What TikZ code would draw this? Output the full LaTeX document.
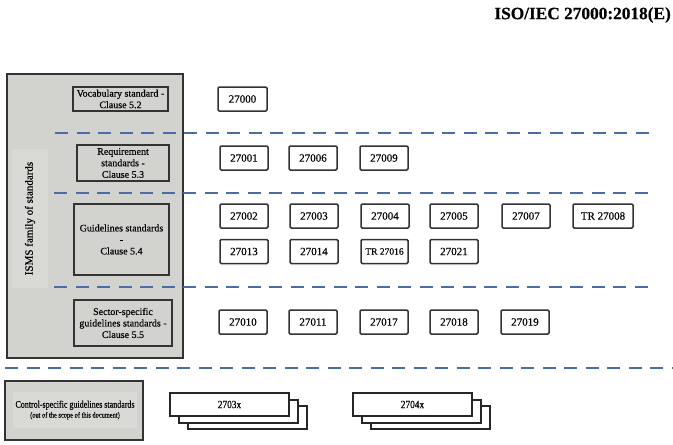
\documentclass[tikz,border=0pt]{standalone}
\usepackage{fontspec}
\setmainfont{Liberation Serif}[FakeBold=0.35]
\begin{document}
\begin{tikzpicture}[x=1pt,y=-1pt,
  graybox/.style={draw=black!80, line width=1.5pt, fill=boxgray, inner sep=0pt, align=center, font=\fontsize{10}{11.5}\selectfont},
  numbox/.style={draw=black!80, line width=1.5pt, fill=white, rounded corners=1.2pt, inner sep=0pt, minimum width=48pt, minimum height=24pt, font=\fontsize{11}{12}\selectfont},
  stackbox/.style={draw=black!85, line width=1.3pt, fill=white, inner sep=0pt, minimum width=119pt, minimum height=23pt, font=\fontsize{11}{12}\selectfont},
  sepline/.style={draw=sepblue, line width=2.2pt, dash pattern=on 13pt off 8.5pt}
]
\definecolor{boxgray}{HTML}{D2D2CE}
\definecolor{innergray}{HTML}{D9D9D5}
\definecolor{sepblue}{HTML}{4A6DA8}
\useasboundingbox (0,0) rectangle (673,445);

% title
\node[anchor=east, inner sep=0pt, font=\fontsize{17.3}{19}\selectfont\bfseries] (title) at (671,15) {ISO/IEC 27000:2018(E)};

% left big box
\node[graybox, minimum width=176pt, minimum height=284pt] (isms) at (95,216) {};
\node[draw=none, fill=innergray, inner sep=0pt, rotate=90, minimum width=139pt, minimum height=36pt, font=\fontsize{11}{12}\selectfont] (ismslabel) at (30,218.5) {ISMS family of standards};

\node[graybox, minimum width=95pt, minimum height=24pt] (vocab) at (120.5,99) {Vocabulary standard -\\Clause 5.2};
\node[graybox, minimum width=92pt, minimum height=36pt] (req) at (123,163) {Requirement\\standards -\\Clause 5.3};
\node[graybox, minimum width=95pt, minimum height=71pt] (guide) at (121.5,239.5) {Guidelines standards\\-\\Clause 5.4};
\node[graybox, minimum width=98pt, minimum height=46pt] (sector) at (123,323) {Sector-specific\\guidelines standards -\\Clause 5.5};

% dashed separators
\draw[sepline] (55,133) -- (652,133);
\draw[sepline] (54,193) -- (650,193);
\draw[sepline] (54,287) -- (650,287);
\draw[sepline] (5,368) -- (673,368);

% number boxes
\node[numbox, minimum width=49pt] (s27000) at (242.5,99) {27000};

\node[numbox] (s27001) at (244,158) {27001};
\node[numbox] (s27006) at (313,158) {27006};
\node[numbox] (s27009) at (384,158) {27009};

\node[numbox] (s27002) at (244,216) {27002};
\node[numbox] (s27003) at (314,216) {27003};
\node[numbox] (s27004) at (385,216) {27004};
\node[numbox] (s27005) at (454,216) {27005};
\node[numbox] (s27007) at (526,216) {27007};
\node[numbox, minimum width=60pt] (s27008) at (603,216) {TR 27008};

\node[numbox] (s27013) at (244,251.5) {27013};
\node[numbox] (s27014) at (314,251.5) {27014};
\node[numbox, minimum width=47pt, font=\fontsize{9.5}{11}\selectfont] (s27016) at (384.5,251.5) {TR 27016};
\node[numbox] (s27021) at (454,251.5) {27021};

\node[numbox] (s27010) at (243,322) {27010};
\node[numbox] (s27011) at (313,322) {27011};
\node[numbox] (s27017) at (384,322) {27017};
\node[numbox] (s27018) at (454,322) {27018};
\node[numbox] (s27019) at (525,322) {27019};

% control-specific
\node[graybox, minimum width=138pt, minimum height=59pt] (control) at (74,410.5) {};
\node[fill=innergray, inner sep=0pt, minimum width=124pt, minimum height=36pt, align=center] (controltext) at (75,410)
  {\scalebox{0.8}[1]{\fontsize{10}{11}\selectfont Control-specific guidelines standards}\\[-2pt]\scalebox{0.8}[1]{\fontsize{8}{9}\selectfont (out of the scope of this document)}};

% stacks
\node[stackbox] (a3) at (247.5,417.5) {};
\node[stackbox] (a2) at (238.5,411.5) {};
\node[stackbox] (a1) at (229.5,404.5) {\scalebox{0.85}[1]{2703x}};

\node[stackbox] (b3) at (430.5,417.5) {};
\node[stackbox] (b2) at (421.5,411.5) {};
\node[stackbox] (b1) at (412.5,404.5) {\scalebox{0.85}[1]{2704x}};
\end{tikzpicture}
\end{document}
